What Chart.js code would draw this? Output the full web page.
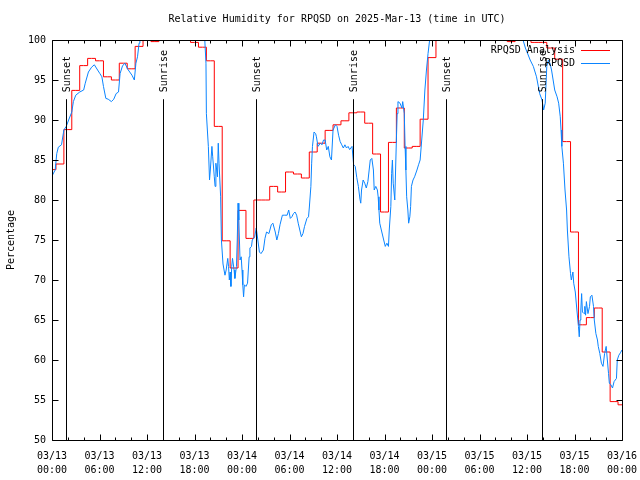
<!DOCTYPE html>
<html>
<head>
<meta charset="utf-8">
<script src="https://cdn.jsdelivr.net/npm/chart.js@4/dist/chart.umd.min.js"></script>
<style>
  html, body { margin: 0; padding: 0; background: #fff; }
  canvas { display: block; }
</style>
</head>
<body>
<canvas id="rhChart" width="640" height="480"></canvas>
<script>
// hours since 2025-03-13 00:00 UTC
var tickLabels = [
    ['03/13', '00:00'], ['03/13', '06:00'], ['03/13', '12:00'], ['03/13', '18:00'],
    ['03/14', '00:00'], ['03/14', '06:00'], ['03/14', '12:00'], ['03/14', '18:00'],
    ['03/15', '00:00'], ['03/15', '06:00'], ['03/15', '12:00'], ['03/15', '18:00'],
    ['03/16', '00:00']
];

// RPQSD Analysis, one value per hour (h0..h72)
var analysisValues = [
    83.8, 84.5, 88.8, 93.7, 96.8, 97.7, 97.4, 95.4, 95.0, 97.1,
    96.4, 99.2, 100, 99.8, 100, 100, 100, 100, 99.7, 99.1,
    97.4, 89.2, 74.9, 71.5, 78.7, 75.2, 80.0, 80.0, 81.7, 81.0,
    83.5, 83.25, 82.75, 86.0, 87.1, 88.7, 89.4, 89.9, 90.9, 91.0,
    89.6, 85.75, 78.5, 87.2, 91.5, 86.5, 86.7, 90.1, 97.8, 100,
    100, 100, 100, 100, 100, 100, 100, 100, 99.8, 100,
    100, 99.7, 99.7, 99.0, 97.6, 87.3, 76.0, 64.4, 65.3, 66.5,
    61.0, 54.8, 54.4
];

// RPQSD observations
var obsHours = [
    0.0, 0.4, 0.6, 0.8, 1.2, 1.5, 1.8, 2.1, 2.5, 2.7, 3.0, 3.5, 4.0, 4.2, 4.6, 5.0, 5.35, 5.6,
    6.05, 6.3, 6.5, 6.8, 7.1, 7.5, 7.8, 8.1, 8.4, 8.6, 8.9, 9.2, 9.6, 10.1, 10.4, 10.6, 10.8,
    11.0, 11.1, 19.3, 19.45, 19.5, 19.75, 19.9, 20.0, 20.2, 20.3, 20.5, 20.6, 20.7, 20.9, 21.0,
    21.1, 21.3, 21.4, 21.6, 21.85, 22.0, 22.2, 22.3, 22.4, 22.5, 22.6, 22.7, 22.8, 23.0, 23.1,
    23.3, 23.4, 23.5, 23.6, 23.75, 23.9, 24.0, 24.1, 24.2, 24.3, 24.5, 24.7, 24.8, 24.9, 25.0,
    25.2, 25.3, 25.6, 25.8, 26.0, 26.2, 26.4, 26.7, 26.9, 27.1, 27.4, 27.7, 27.9, 28.2, 28.4,
    28.6, 28.8, 29.1, 29.4, 29.7, 29.9, 30.1, 30.3, 30.5, 30.7, 30.9, 31.1, 31.3, 31.5, 31.7,
    31.9, 32.2, 32.4, 32.5, 32.7, 32.8, 32.9, 33.1, 33.3, 33.4, 33.6, 33.9, 34.1, 34.3, 34.5,
    34.7, 34.9, 35.1, 35.3, 35.5, 35.8, 36.0, 36.2, 36.4, 36.6, 36.8, 37.0, 37.2, 37.4, 37.6,
    37.9, 38.1, 38.3, 38.5, 38.7, 38.9, 39.0, 39.1, 39.3, 39.5, 39.7, 39.9, 40.2, 40.4, 40.6,
    40.7, 40.9, 41.1, 41.2, 41.3, 41.4, 41.6, 41.9, 42.1, 42.3, 42.5, 42.6, 42.8, 42.9, 43.0,
    43.1, 43.3, 43.4, 43.5, 43.6, 43.7, 43.96, 44.2, 44.3, 44.5, 44.6, 44.7, 44.8, 44.95, 45.05,
    45.2, 45.3, 45.4, 45.6, 45.8, 46.1, 46.3, 46.5, 46.7, 46.9, 47.1, 47.3, 47.5, 47.7, 59.5,
    59.8, 60.0, 60.4, 60.8, 61.2, 61.6, 61.9, 62.1, 62.3, 62.5, 62.7, 62.9, 63.1, 63.3, 63.5,
    63.8, 64.0, 64.2, 64.3, 64.4, 64.6, 64.8, 65.0, 65.1, 65.3, 65.5, 65.6, 65.8, 65.9, 66.1,
    66.3, 66.5, 66.6, 66.7, 66.8, 66.9, 67.0, 67.2, 67.3, 67.4, 67.5, 67.7, 67.9, 68.0, 68.2,
    68.4, 68.5, 68.7, 68.9, 69.0, 69.2, 69.4, 69.6, 69.8, 70.0, 70.3, 70.4, 70.6, 70.8, 71.0,
    71.3, 71.4, 71.6, 71.8, 72.0
];
var obsValues = [
    83.0, 83.75, 85.8, 86.6, 86.9, 88.75, 89.2, 90.0, 91.0, 92.3, 93.1, 93.5, 93.75, 94.6, 96.0, 96.6, 96.9, 96.5,
    95.8, 95.4, 94.2, 92.7, 92.6, 92.3, 92.6, 93.3, 93.5, 95.8, 96.75, 97.1, 96.3, 95.6, 95.0, 97.1, 97.9,
    99.6, 100, 100, 97.1, 90.8, 86.7, 82.5, 83.75, 86.7, 85.4, 82.9, 81.7, 84.6, 82.9, 87.1,
    84.6, 80.4, 75.0, 72.0, 70.6, 71.25, 72.7, 71.7, 70.0, 71.0, 69.2, 71.7, 72.7, 71.25, 70.2,
    71.7, 75.0, 79.6, 77.5, 72.5, 72.9, 71.25, 69.4, 67.9, 69.4, 69.2, 69.6, 71.25, 72.9, 74.0,
    74.2, 75.0, 75.4, 76.5, 75.0, 73.5, 73.3, 73.75, 75.2, 76.0, 75.8, 76.9, 77.1, 76.0, 75.0,
    75.8, 76.9, 78.1, 78.1, 78.1, 78.75, 77.7, 77.9, 78.3, 78.5, 78.1, 77.1, 76.25, 75.4, 75.8,
    76.7, 77.7, 77.9, 79.0, 81.7, 84.6, 86.7, 88.5, 88.3, 87.9, 86.7, 87.1, 86.9, 87.5, 87.5,
    86.25, 86.7, 85.4, 85.0, 88.75, 89.4, 89.2, 88.1, 87.3, 86.9, 86.5, 86.9, 86.5, 86.7, 86.3,
    86.7, 84.4, 84.2, 82.8, 81.7, 80.1, 79.6, 81.25, 82.5, 82.1, 81.5, 82.3, 85.0, 85.2, 83.75,
    81.25, 81.7, 81.25, 80.4, 78.75, 77.1, 76.25, 75.0, 74.2, 74.6, 74.2, 76.25, 79.2, 83.3, 85.0,
    82.1, 80.0, 83.75, 87.5, 90.8, 92.3, 92.1, 91.5, 92.3, 90.8, 86.7, 83.75, 80.4, 78.75, 77.1,
    77.9, 79.2, 81.7, 82.5, 82.9, 83.75, 84.4, 85.0, 87.5, 90.0, 93.75, 96.25, 98.3, 100, 100,
    99.0, 98.5, 97.5, 96.7, 95.4, 93.3, 92.5, 91.25, 92.1, 96.7, 97.5, 97.1, 96.25, 95.0, 93.75,
    92.9, 92.1, 90.4, 88.75, 86.7, 84.6, 81.25, 78.75, 76.25, 72.9, 70.8, 70.0, 71.0, 69.6, 68.5,
    66.25, 64.2, 62.9, 65.0, 66.25, 68.3, 66.0, 65.8, 66.7, 65.6, 67.3, 65.8, 66.7, 67.9, 68.1,
    66.7, 65.0, 63.3, 62.5, 61.7, 60.8, 59.6, 59.2, 60.8, 61.7, 58.3, 57.1, 56.9, 56.5, 57.3,
    57.7, 60.0, 60.6, 60.9, 61.25
];

// sunset / sunrise markers
var eventHours = [1.8, 14.05, 25.8, 38.05, 49.8, 61.95];
var eventLabels = ['Sunset', 'Sunrise', 'Sunset', 'Sunrise', 'Sunset', 'Sunrise'];

var FONT = '"DejaVu Sans Mono", "Liberation Mono", monospace';

var analysisData = analysisValues.map(function(v, i) { return { x: i, y: v }; });
var obsData = obsHours.map(function(h, i) { return { x: h, y: obsValues[i] }; });

// gnuplot-like frame, inward ticks, markers, legend and titles
var gnuplotLook = {
    id: 'gnuplotLook',
    afterDraw: function(chart) {
        var ctx = chart.ctx;
        var a = chart.chartArea;
        var xs = chart.scales.x;
        var ys = chart.scales.y;
        var L = Math.round(a.left) + 0.5, R = Math.round(a.right) + 0.5;
        var T = Math.round(a.top) + 0.5, B = Math.round(a.bottom) + 0.5;

        ctx.save();
        ctx.strokeStyle = '#000';
        ctx.lineWidth = 1;
        ctx.beginPath();
        ctx.rect(L, T, R - L, B - T);

        // x ticks every 2 hours, longer every 6
        for (var h = 0; h <= 72; h += 2) {
            var px = Math.round(xs.getPixelForValue(h)) + 0.5;
            var len = (h % 6 === 0) ? 6 : 3;
            ctx.moveTo(px, B); ctx.lineTo(px, B - len);
            ctx.moveTo(px, T); ctx.lineTo(px, T + len);
        }
        // y ticks
        for (var v = 50; v <= 100; v += 5) {
            var py = Math.round(ys.getPixelForValue(v)) + 0.5;
            ctx.moveTo(L, py); ctx.lineTo(L + 6, py);
            ctx.moveTo(R, py); ctx.lineTo(R - 6, py);
        }
        ctx.stroke();

        // sunrise / sunset lines
        var topY = ys.getPixelForValue(92.6);
        ctx.font = '10px ' + FONT;
        ctx.fillStyle = '#000';
        eventHours.forEach(function(eh, i) {
            var ex = Math.round(xs.getPixelForValue(eh)) + 0.5;
            ctx.beginPath();
            ctx.moveTo(ex, B);
            ctx.lineTo(ex, topY);
            ctx.stroke();
            ctx.save();
            ctx.translate(ex + 1, topY - 7);
            ctx.rotate(-Math.PI / 2);
            ctx.textAlign = 'left';
            ctx.textBaseline = 'middle';
            ctx.fillText(eventLabels[i], 0, 0);
            ctx.restore();
        });

        // legend, top right inside the frame
        ctx.textAlign = 'right';
        ctx.textBaseline = 'middle';
        chart.data.datasets.slice().sort(function(p, q) { return q.order - p.order; }).forEach(function(ds, i) {
            var ly = a.top + 9.5 + i * 13;
            ctx.fillStyle = '#000';
            ctx.fillText(ds.label, a.right - 47, ly + 0.5);
            ctx.strokeStyle = ds.borderColor;
            ctx.beginPath();
            ctx.moveTo(a.right - 41, Math.round(ly) + 0.5);
            ctx.lineTo(a.right - 12, Math.round(ly) + 0.5);
            ctx.stroke();
        });

        // title and y-axis title
        ctx.fillStyle = '#000';
        ctx.textAlign = 'center';
        ctx.fillText('Relative Humidity for RPQSD on 2025-Mar-13 (time in UTC)', (a.left + a.right) / 2, 19);
        ctx.save();
        ctx.translate(11, (a.top + a.bottom) / 2);
        ctx.rotate(-Math.PI / 2);
        ctx.fillText('Percentage', 0, 0);
        ctx.restore();
        ctx.restore();
    }
};

new Chart(document.getElementById('rhChart').getContext('2d'), {
    type: 'line',
    data: {
        datasets: [{
            label: 'RPQSD Analysis',
            data: analysisData,
            borderColor: '#ff0000',
            borderWidth: 1,
            pointRadius: 0,
            stepped: 'middle',
            order: 2
        }, {
            label: 'RPQSD',
            data: obsData,
            borderColor: '#0a84ff',
            borderWidth: 1,
            pointRadius: 0,
            tension: 0,
            order: 1
        }]
    },
    options: {
        responsive: false,
        animation: false,
        layout: { padding: { top: 40, right: 18, left: 0, bottom: 0 } },
        plugins: {
            legend: { display: false },
            title: { display: false },
            tooltip: { enabled: false }
        },
        scales: {
            x: {
                type: 'linear',
                min: 0,
                max: 72,
                grid: { display: false, drawTicks: false },
                border: { display: false },
                afterFit: function(scale) {
                    scale.height = 40;
                    scale.paddingLeft = 0;
                    scale.paddingRight = 0;
                },
                ticks: {
                    stepSize: 6,
                    autoSkip: false,
                    maxRotation: 0,
                    padding: 9,
                    color: '#000',
                    font: { family: FONT, size: 10, lineHeight: 1.4 },
                    callback: function(value, index) { return tickLabels[index]; }
                }
            },
            y: {
                min: 50,
                max: 100,
                grid: { display: false, drawTicks: false },
                border: { display: false },
                afterFit: function(scale) { scale.width = 52; },
                ticks: {
                    stepSize: 5,
                    padding: 6,
                    color: '#000',
                    font: { family: FONT, size: 10 }
                }
            }
        }
    },
    plugins: [gnuplotLook]
});
</script>
</body>
</html>
